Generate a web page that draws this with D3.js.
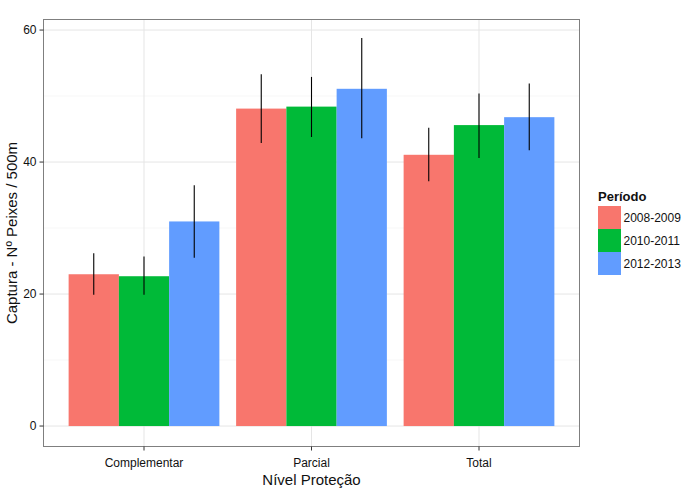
<!DOCTYPE html>
<html><head><meta charset="utf-8">
<script src="https://cdn.jsdelivr.net/npm/d3@7"></script>
<style>body{margin:0;background:#fff}svg{display:block;font-family:"Liberation Sans",Arial,sans-serif}</style>
</head><body><svg id="c" width="689" height="499"></svg>
<script>
const categories = ["Complementar","Parcial","Total"];
const periods = ["2008-2009","2010-2011","2012-2013"];
const colors = ["#F8766D","#00BA38","#619CFF"];
const means = {
  "2008-2009":[23.0,48.1,41.1],
  "2010-2011":[22.7,48.4,45.6],
  "2012-2013":[31.0,51.1,46.8]
};
const lower = {
  "2008-2009":[19.9,42.9,37.1],
  "2010-2011":[19.9,43.8,40.6],
  "2012-2013":[25.5,43.6,41.8]
};
const upper = {
  "2008-2009":[26.2,53.3,45.2],
  "2010-2011":[25.7,52.9,50.4],
  "2012-2013":[36.5,58.8,51.9]
};
const yTicks = [0,20,40,60];
const yMinor = [10,30,50];

const svg = d3.select("#c");
const L=43.5, R=579.5, T=19.5, B=446.5;
const y = d3.scaleLinear().domain([-3.1,61.6]).range([B,T]);
const x = d3.scaleBand().domain(categories).range([L,R]).paddingOuter(0.3).paddingInner(0);
// actually emulate ggplot discrete expansion: 0.6 units each side, 3.2 units total
const unit=(R-L)/3.2;
const cx = c => L + unit*(0.6 + categories.indexOf(c));
const xs = d3.scaleBand().domain(periods).range([-0.45*unit,0.45*unit]);

svg.append("rect").attr("x",L).attr("y",T).attr("width",R-L).attr("height",B-T).attr("fill","#fff");
const g = svg.append("g");
yMinor.forEach(v=>g.append("line").attr("x1",L).attr("x2",R).attr("y1",y(v)).attr("y2",y(v)).attr("stroke","#f7f7f7").attr("stroke-width",1));
yTicks.forEach(v=>g.append("line").attr("x1",L).attr("x2",R).attr("y1",y(v)).attr("y2",y(v)).attr("stroke","#e5e5e5").attr("stroke-width",1));
categories.forEach(c=>g.append("line").attr("x1",cx(c)).attr("x2",cx(c)).attr("y1",T).attr("y2",B).attr("stroke","#e5e5e5").attr("stroke-width",1));

periods.forEach((p,pi)=>{
  categories.forEach((c,ci)=>{
    g.append("rect").attr("x",cx(c)+xs(p)).attr("width",xs.bandwidth())
      .attr("y",y(means[p][ci])).attr("height",y(0)-y(means[p][ci])).attr("fill",colors[pi]);
  });
});
periods.forEach((p,pi)=>{
  categories.forEach((c,ci)=>{
    const xm = cx(c)+xs(p)+xs.bandwidth()/2;
    g.append("line").attr("x1",xm).attr("x2",xm).attr("y1",y(upper[p][ci])).attr("y2",y(lower[p][ci])).attr("stroke","#000").attr("stroke-width",1.1);
  });
});
svg.append("rect").attr("x",L).attr("y",T).attr("width",R-L).attr("height",B-T).attr("fill","none").attr("stroke","#7f7f7f").attr("stroke-width",1);

// y axis
yTicks.forEach(v=>{
  svg.append("line").attr("x1",L-4).attr("x2",L).attr("y1",y(v)).attr("y2",y(v)).attr("stroke","#333");
  svg.append("text").attr("x",L-7).attr("y",y(v)).attr("dy","0.35em").attr("text-anchor","end").attr("font-size",12).attr("fill","#111").text(v);
});
categories.forEach(c=>{
  svg.append("line").attr("x1",cx(c)).attr("x2",cx(c)).attr("y1",B).attr("y2",B+4).attr("stroke","#333");
  svg.append("text").attr("x",cx(c)).attr("y",B+20).attr("text-anchor","middle").attr("font-size",12).attr("fill","#111").text(c);
});
svg.append("text").attr("x",(L+R)/2).attr("y",485).attr("text-anchor","middle").attr("font-size",15).attr("fill","#111").text("Nível Proteção");
svg.append("text").attr("transform",`translate(17,${(T+B)/2}) rotate(-90)`).attr("text-anchor","middle").attr("font-size",15).attr("fill","#111").text("Captura - Nº Peixes / 500m");

// legend
const lg = svg.append("g");
lg.append("text").attr("x",598).attr("y",201).attr("font-size",13).attr("font-weight","bold").attr("fill","#111").text("Período");
periods.forEach((p,i)=>{
  lg.append("rect").attr("x",598).attr("y",206+i*23).attr("width",23).attr("height",23).attr("fill",colors[i]);
  lg.append("text").attr("x",623.5).attr("y",206+i*23+11.5).attr("dy","0.35em").attr("font-size",12).attr("fill","#111").text(p);
});
</script></body></html>
